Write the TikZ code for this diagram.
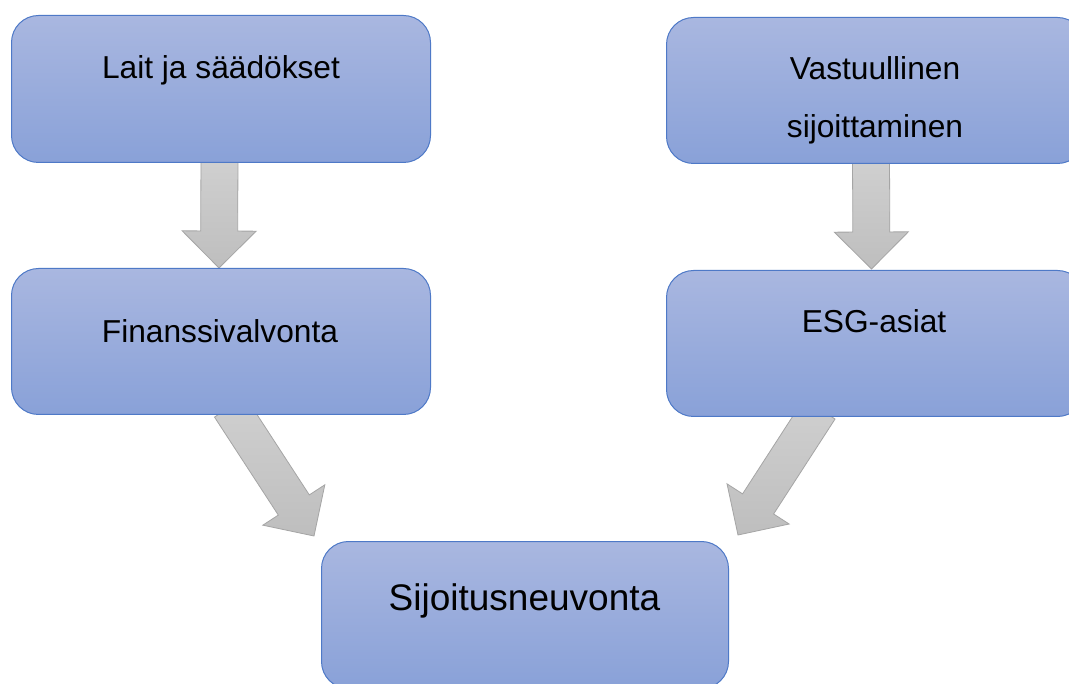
\documentclass[tikz,border=0pt]{standalone}
\usepackage{fontspec}
\setmainfont{Liberation Sans}
\usetikzlibrary{calc}
\pgfdeclarelayer{back}
\pgfdeclarelayer{bg}
\pgfsetlayers{back,bg,main}
\definecolor{boxtop}{RGB}{169,183,224}
\definecolor{boxbot}{RGB}{137,161,216}
\definecolor{boxline}{RGB}{78,121,199}
\definecolor{arrtop}{RGB}{208,208,208}
\definecolor{arrbot}{RGB}{190,190,190}
\definecolor{arrline}{RGB}{165,165,165}
\tikzset{
  box/.style={draw=boxline, line width=1pt, rounded corners=27pt,
    top color=boxtop, bottom color=boxbot, anchor=north west, inner sep=0pt},
  lbl/.style={anchor=base, inner sep=0pt, font=\fontsize{31.7}{38}\selectfont},
  biglbl/.style={anchor=base, inner sep=0pt, font=\fontsize{37}{44}\selectfont},
  arr/.style={draw=arrline, line width=0.8pt, top color=arrtop, bottom color=arrbot, line join=miter}
}
\newcommand{\blockarrow}[3]{%
  \coordinate (#1h) at ($(#3)!37pt!(#2)$);
  \path[arr] ($(#2)!18.5pt!90:(#3)$) -- ($(#1h)!18.5pt!90:(#3)$) -- ($(#1h)!37pt!90:(#3)$)
    -- (#3) -- ($(#1h)!37pt!-90:(#3)$) -- ($(#1h)!18.5pt!-90:(#3)$) -- ($(#2)!18.5pt!-90:(#3)$) -- cycle;
}
\begin{document}
\begin{tikzpicture}[x=1pt,y=-1pt]
\clip (0,0) rectangle (1069,684);
\useasboundingbox (0,0) rectangle (1069,684);
\begin{pgfonlayer}{back}
\fill[white] (0,0) rectangle (1069,684);
\end{pgfonlayer}

% boxes
\node[box, minimum width=419pt, minimum height=147pt] (b1) at (11,15) {};
\node[box, minimum width=418pt, minimum height=146pt] (b2) at (666,17) {};
\node[box, minimum width=419pt, minimum height=146pt] (b3) at (11,268) {};
\node[box, minimum width=418pt, minimum height=146pt] (b4) at (666,270) {};
\node[box, minimum width=407pt, minimum height=147pt] (b5) at (321,541) {};

% texts
\node[lbl] (t1) at (221,79) {Lait ja säädökset};
\node[lbl] (t2a) at (875,80) {Vastuullinen};
\node[lbl] (t2b) at (875,138) {sijoittaminen};
\node[lbl] (t3) at (220,343) {Finanssivalvonta};
\node[lbl] (t4) at (874,333) {ESG-asiat};
\node[biglbl] (t5) at (524.5,610) {Sijoitusneuvonta};

% arrow end points
\coordinate (a1s) at ([xshift=-1.5pt,yshift=6pt]b1.south);
\coordinate (a1t) at ([xshift=-2pt]b3.north);
\coordinate (a2s) at ([xshift=-4.5pt,yshift=6pt]b2.south);
\coordinate (a2t) at ([xshift=-4pt,yshift=1pt]b4.north);
\coordinate (a3s) at ([xshift=9pt,yshift=8pt]b3.south);
\coordinate (a3t) at ([xshift=-7pt,yshift=5pt]b5.north west);
\coordinate (a4s) at ([xshift=-56pt,yshift=8pt]b4.south);
\coordinate (a4t) at ([xshift=9pt,yshift=6pt]b5.north east);

\begin{pgfonlayer}{bg}
\blockarrow{a1}{a1s}{a1t}
\blockarrow{a2}{a2s}{a2t}
\blockarrow{a3}{a3s}{a3t}
\blockarrow{a4}{a4s}{a4t}
\end{pgfonlayer}
\end{tikzpicture}
\end{document}
